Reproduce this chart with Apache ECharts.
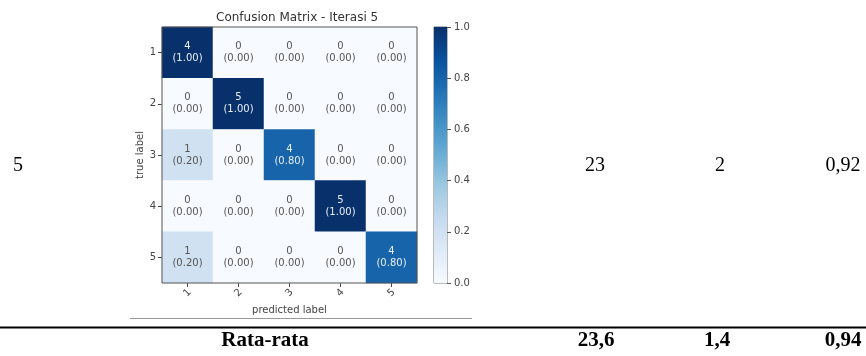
<!DOCTYPE html>
<html>
<head>
<meta charset="utf-8">
<title>Confusion Matrix - Iterasi 5</title>
<script src="https://cdn.jsdelivr.net/npm/echarts@6/dist/echarts.min.js"></script>
<style>
  html, body { margin: 0; padding: 0; background: #fff; }
  #chart { width: 866px; height: 356px; }
</style>
</head>
<body>
<div id="chart"></div>
<script>
// kelas (label) untuk sumbu
const classLabels = ['1', '2', '3', '4', '5'];
// jumlah prediksi per baris (true label) dan kolom (predicted label)
const counts = [
  [4, 0, 0, 0, 0],
  [0, 5, 0, 0, 0],
  [1, 0, 4, 0, 0],
  [0, 0, 0, 5, 0],
  [1, 0, 0, 0, 4]
];
// nilai ternormalisasi per baris
const ratios = [
  [1.00, 0.00, 0.00, 0.00, 0.00],
  [0.00, 1.00, 0.00, 0.00, 0.00],
  [0.20, 0.00, 0.80, 0.00, 0.00],
  [0.00, 0.00, 0.00, 1.00, 0.00],
  [0.20, 0.00, 0.00, 0.00, 0.80]
];
// isi tabel di sekitar gambar
const rowCells = ['5', '23', '2', '0,92'];
const avgCells = ['Rata-rata', '23,6', '1,4', '0,94'];

// colormap "Blues"
const blues = ['#f7fbff', '#deebf7', '#c6dbef', '#9ecae1', '#6baed6', '#4292c6', '#2171b5', '#08519c', '#08306b'];

const heatData = [];
counts.forEach((row, r) => {
  row.forEach((c, k) => {
    heatData.push({
      value: [k, r, ratios[r][k], c],
      label: { color: ratios[r][k] > 0.5 ? '#e8eef6' : '#555' }
    });
  });
});

const chart = echarts.init(document.getElementById('chart'));
const sans = 'DejaVu Sans';
const serif = 'Liberation Serif';

const gradStops = blues.map((c, i) => ({ offset: i / (blues.length - 1), color: c }));

// posisi x kolom tabel
const colX = [18, 595, 720, 843];
const avgX = [265, 596, 717, 843];

const tableTexts = [];
rowCells.forEach((t, i) => {
  tableTexts.push({ type: 'text', x: colX[i], y: 166,
    style: { text: t, font: '20px "' + serif + '"', fill: '#000', align: 'center', verticalAlign: 'middle' } });
});
avgCells.forEach((t, i) => {
  tableTexts.push({ type: 'text', x: avgX[i], y: 341,
    style: { text: t, font: 'bold 21px "' + serif + '"', fill: '#000', align: 'center', verticalAlign: 'middle' } });
});

chart.setOption({
  animation: false,
  title: {
    text: 'Confusion Matrix - Iterasi 5',
    left: 211,
    top: 7,
    textStyle: { fontFamily: sans, fontSize: 12, fontWeight: 'normal', color: '#333' }
  },
  grid: [
    { left: 162, top: 27, width: 255, height: 256, show: true, borderColor: '#555', borderWidth: 1, z: 5 },
    { left: 434, top: 27, width: 13, height: 256, show: true, borderColor: '#777', borderWidth: 1 }
  ],
  xAxis: [
    {
      gridIndex: 0, type: 'category', data: classLabels,
      name: 'predicted label', nameLocation: 'middle', nameGap: 21,
      nameTextStyle: { fontFamily: sans, fontSize: 10, color: '#444' },
      axisLine: { show: false },
      axisTick: { show: true, alignWithLabel: true, length: 4, lineStyle: { color: '#444' } },
      axisLabel: { rotate: 45, align: 'center', verticalAlign: 'middle', fontFamily: sans, fontSize: 10, color: '#444', margin: 10 },
      splitLine: { show: false }
    },
    { gridIndex: 1, type: 'category', data: ['c'], show: false }
  ],
  yAxis: [
    {
      gridIndex: 0, type: 'category', data: classLabels, inverse: true,
      name: 'true label', nameLocation: 'middle', nameGap: 16, nameRotate: 90,
      nameTextStyle: { fontFamily: sans, fontSize: 10, color: '#444' },
      axisLine: { show: false },
      axisTick: { show: true, alignWithLabel: true, length: 4, lineStyle: { color: '#444' } },
      axisLabel: { fontFamily: sans, fontSize: 10, color: '#444', margin: 6 },
      splitLine: { show: false }
    },
    {
      gridIndex: 1, type: 'value', min: 0, max: 1, interval: 0.2, position: 'right',
      axisLine: { show: false },
      axisTick: { show: true, length: 4, lineStyle: { color: '#555' } },
      axisLabel: { fontFamily: sans, fontSize: 10, color: '#444', margin: 7, formatter: v => v.toFixed(1) },
      splitLine: { show: false }
    }
  ],
  visualMap: {
    show: false, min: 0, max: 1, dimension: 2, seriesIndex: 0,
    inRange: { color: blues }
  },
  series: [
    {
      type: 'heatmap',
      xAxisIndex: 0, yAxisIndex: 0,
      data: heatData,
      itemStyle: { borderWidth: 0 },
      label: {
        show: true,
        fontFamily: sans,
        fontSize: 10,
        lineHeight: 12,
        formatter: p => p.value[3] + '\n(' + p.value[2].toFixed(2) + ')'
      },
      emphasis: { disabled: true }
    },
    {
      type: 'bar',
      xAxisIndex: 1, yAxisIndex: 1,
      data: [1],
      barWidth: '100%',
      silent: true,
      itemStyle: {
        color: new echarts.graphic.LinearGradient(0, 1, 0, 0, gradStops)
      }
    }
  ],
  graphic: [
    { type: 'line', shape: { x1: 130, y1: 318.5, x2: 472, y2: 318.5 }, style: { stroke: '#999', lineWidth: 1 } },
    { type: 'line', shape: { x1: 0, y1: 327.5, x2: 866, y2: 327.5 }, style: { stroke: '#000', lineWidth: 2 } }
  ].concat(tableTexts)
});

window.addEventListener('resize', () => chart.resize());
</script>
</body>
</html>
